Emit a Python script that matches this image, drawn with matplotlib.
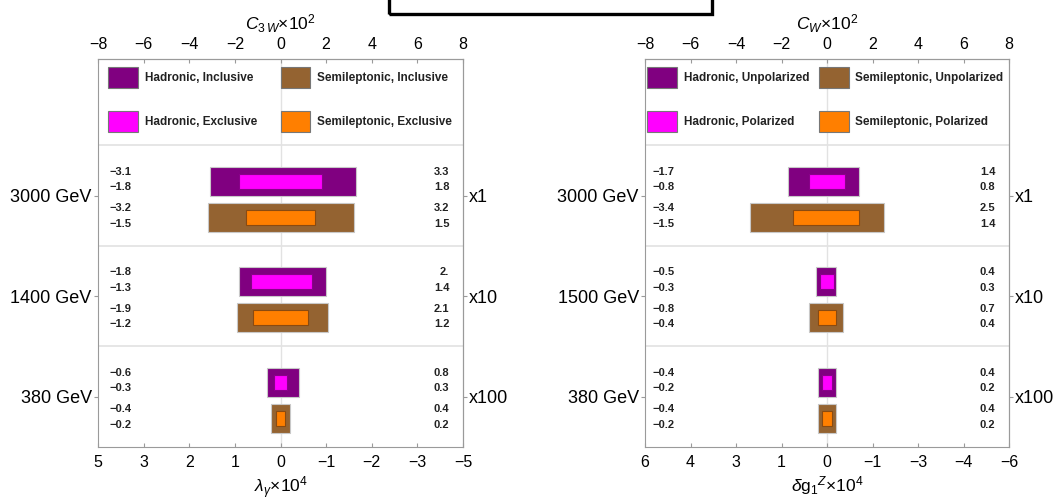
import matplotlib
matplotlib.use('Agg')
import matplotlib.pyplot as plt
from matplotlib.patches import Rectangle

plt.rcParams['font.family'] = ['Liberation Sans', 'DejaVu Sans']
plt.rcParams['mathtext.fontset'] = 'custom'
plt.rcParams['mathtext.rm'] = 'Liberation Sans'
plt.rcParams['mathtext.it'] = 'Liberation Sans:italic'
plt.rcParams['mathtext.bf'] = 'Liberation Sans:bold'

# ---- data ----
scales = ['x1', 'x10', 'x100']
ticks_top = [-8, -6, -4, -2, 0, 2, 4, 6, 8]

# left panel (C3W / lambda_gamma)
energies_l = ['3000 GeV', '1400 GeV', '380 GeV']
bottom_l = ['5', '3', '2', '1', '0', '\u22121', '\u22122', '\u22123', '\u22125']
names_l = ['Hadronic, Inclusive', 'Hadronic, Exclusive',
           'Semileptonic, Inclusive', 'Semileptonic, Exclusive']
had_incl_lo = [-3.1, -1.8, -0.6]
had_incl_hi = [3.3, 2.0, 0.8]
had_excl_lo = [-1.8, -1.3, -0.3]
had_excl_hi = [1.8, 1.4, 0.3]
semi_incl_lo = [-3.2, -1.9, -0.4]
semi_incl_hi = [3.2, 2.1, 0.4]
semi_excl_lo = [-1.5, -1.2, -0.2]
semi_excl_hi = [1.5, 1.2, 0.2]

# right panel (CW / delta g1Z)
energies_r = ['3000 GeV', '1500 GeV', '380 GeV']
bottom_r = ['6', '4', '3', '1', '0', '\u22121', '\u22123', '\u22124', '\u22126']
names_r = ['Hadronic, Unpolarized', 'Hadronic, Polarized',
           'Semileptonic, Unpolarized', 'Semileptonic, Polarized']
had_unpol_lo = [-1.7, -0.5, -0.4]
had_unpol_hi = [1.4, 0.4, 0.4]
had_pol_lo = [-0.8, -0.3, -0.2]
had_pol_hi = [0.8, 0.3, 0.2]
semi_unpol_lo = [-3.4, -0.8, -0.4]
semi_unpol_hi = [2.5, 0.7, 0.4]
semi_pol_lo = [-1.5, -0.4, -0.2]
semi_pol_hi = [1.4, 0.4, 0.2]

PURPLE = '#800080'
MAGENTA = '#ff00ff'
BROWN = '#946331'
ORANGE = '#ff7f00'
FRAME = '#9a9a9a'
GRID = '#e2e2e2'

centers = [2.5, 1.5, 0.5]


def fmt(v):
    s = f'{abs(v):.1f}'
    if s.endswith('.0'):
        s = s[:-1]
    return ('\u2212' if v < 0 else '') + s


def draw_panel(ax, series, names, energies, bottom_labels, top_label,
               bottom_label, leg_x, txt_left):
    (hi_lo, hi_hi, hx_lo, hx_hi, si_lo, si_hi, sx_lo, sx_hi) = series
    ax.set_xlim(-8, 8)
    ax.set_ylim(0, 3.86)

    for y in (1, 2, 3):
        ax.axhline(y, color=GRID, lw=1.2, zorder=0)
    ax.axvline(0, color=GRID, lw=1.0, zorder=0)

    y_had = [c + 0.145 for c in centers]
    y_semi = [c - 0.215 for c in centers]
    ax.barh(y_had, [b - a for a, b in zip(hi_lo, hi_hi)], left=hi_lo,
            height=0.29, color=PURPLE, edgecolor='#c8c8c8', lw=0.8, zorder=2)
    ax.barh(y_had, [b - a for a, b in zip(hx_lo, hx_hi)], left=hx_lo,
            height=0.15, color=MAGENTA, edgecolor='#8a008a', lw=0.8, zorder=3)
    ax.barh(y_semi, [b - a for a, b in zip(si_lo, si_hi)], left=si_lo,
            height=0.29, color=BROWN, edgecolor='#c8c8c8', lw=0.8, zorder=2)
    ax.barh(y_semi, [b - a for a, b in zip(sx_lo, sx_hi)], left=sx_lo,
            height=0.15, color=ORANGE, edgecolor='#8a4a10', lw=0.8, zorder=3)

    # value labels
    offs = [0.24, 0.085, -0.125, -0.28]
    for i, c in enumerate(centers):
        lows = [hi_lo[i], hx_lo[i], si_lo[i], sx_lo[i]]
        highs = [hi_hi[i], hx_hi[i], si_hi[i], sx_hi[i]]
        for o, lo, hi in zip(offs, lows, highs):
            ax.text(txt_left, c + o, fmt(lo), ha='left', va='center',
                    fontsize=8, fontweight='bold', color='#222222')
            ax.text(7.4, c + o, fmt(hi), ha='right', va='center',
                    fontsize=8, fontweight='bold', color='#222222')

    # legend (manual, Mathematica style)
    colors = [PURPLE, MAGENTA, BROWN, ORANGE]
    rows = [3.57, 3.13, 3.57, 3.13]
    cols = [0, 0, 1, 1]
    for name, col, r, cidx in zip(names, colors, rows, cols):
        x0 = leg_x[cidx]
        ax.add_patch(Rectangle((x0, r), 1.3, 0.21, facecolor=col,
                               edgecolor='#777777', lw=0.8, zorder=3))
        ax.text(x0 + 1.6, r + 0.105, name, ha='left', va='center',
                fontsize=8.5, fontweight='bold', color='#222222')

    ax.set_xticks(ticks_top)
    ax.set_xticklabels(bottom_labels)
    ax.tick_params(axis='x', direction='in', length=3, color=FRAME,
                   labelsize=11.5, pad=6)
    ax.set_yticks(centers)
    ax.set_yticklabels(energies)
    ax.tick_params(axis='y', direction='out', length=3, color=FRAME,
                   labelsize=13, pad=1.5)
    ax.set_xlabel(bottom_label, fontsize=12.5, labelpad=3)
    for sp in ax.spines.values():
        sp.set_color(FRAME)

    top = ax.secondary_xaxis('top')
    top.set_xticks(ticks_top)
    top.set_xticklabels([('\u2212' + str(-t)) if t < 0 else str(t) for t in ticks_top])
    top.tick_params(direction='in', length=3, color=FRAME, labelsize=11.5, pad=5)
    top.set_xlabel(top_label, fontsize=12.5, labelpad=5)
    top.spines['top'].set_color(FRAME)

    right = ax.secondary_yaxis('right')
    right.set_yticks(centers)
    right.set_yticklabels(scales)
    right.tick_params(direction='out', length=3, color=FRAME, labelsize=13, pad=1.5)
    right.spines['right'].set_color(FRAME)


fig = plt.figure(figsize=(10.6, 5.03), dpi=100)
ax_l = fig.add_axes([98 / 1060, 56 / 503, 365 / 1060, 388 / 503])
ax_r = fig.add_axes([645 / 1060, 56 / 503, 364 / 1060, 388 / 503])

draw_panel(ax_l,
           (had_incl_lo, had_incl_hi, had_excl_lo, had_excl_hi,
            semi_incl_lo, semi_incl_hi, semi_excl_lo, semi_excl_hi),
           names_l, energies_l, bottom_l,
           r'$C_{3\,W}$' + '\u00d710' + r'$^{2}$',
           r'$\lambda_{\gamma}$' + '\u00d710' + r'$^{4}$',
           leg_x=[-7.55, 0.0], txt_left=-7.5)

draw_panel(ax_r,
           (had_unpol_lo, had_unpol_hi, had_pol_lo, had_pol_hi,
            semi_unpol_lo, semi_unpol_hi, semi_pol_lo, semi_pol_hi),
           names_r, energies_r, bottom_r,
           r'$C_{W}$' + '\u00d710' + r'$^{2}$',
           r'$\delta\mathrm{g}_{1}{}^{Z}$' + '\u00d710' + r'$^{4}$',
           leg_x=[-7.9, -0.35], txt_left=-7.65)

# partial black frame at the top (cropped element of the original figure)
fig.add_artist(Rectangle((389 / 1060, 1 - 14 / 503), (712 - 389) / 1060, 0.1,
                         transform=fig.transFigure, fill=False,
                         edgecolor='black', lw=2.4, clip_on=False))

fig.savefig('out.png', dpi=100)
